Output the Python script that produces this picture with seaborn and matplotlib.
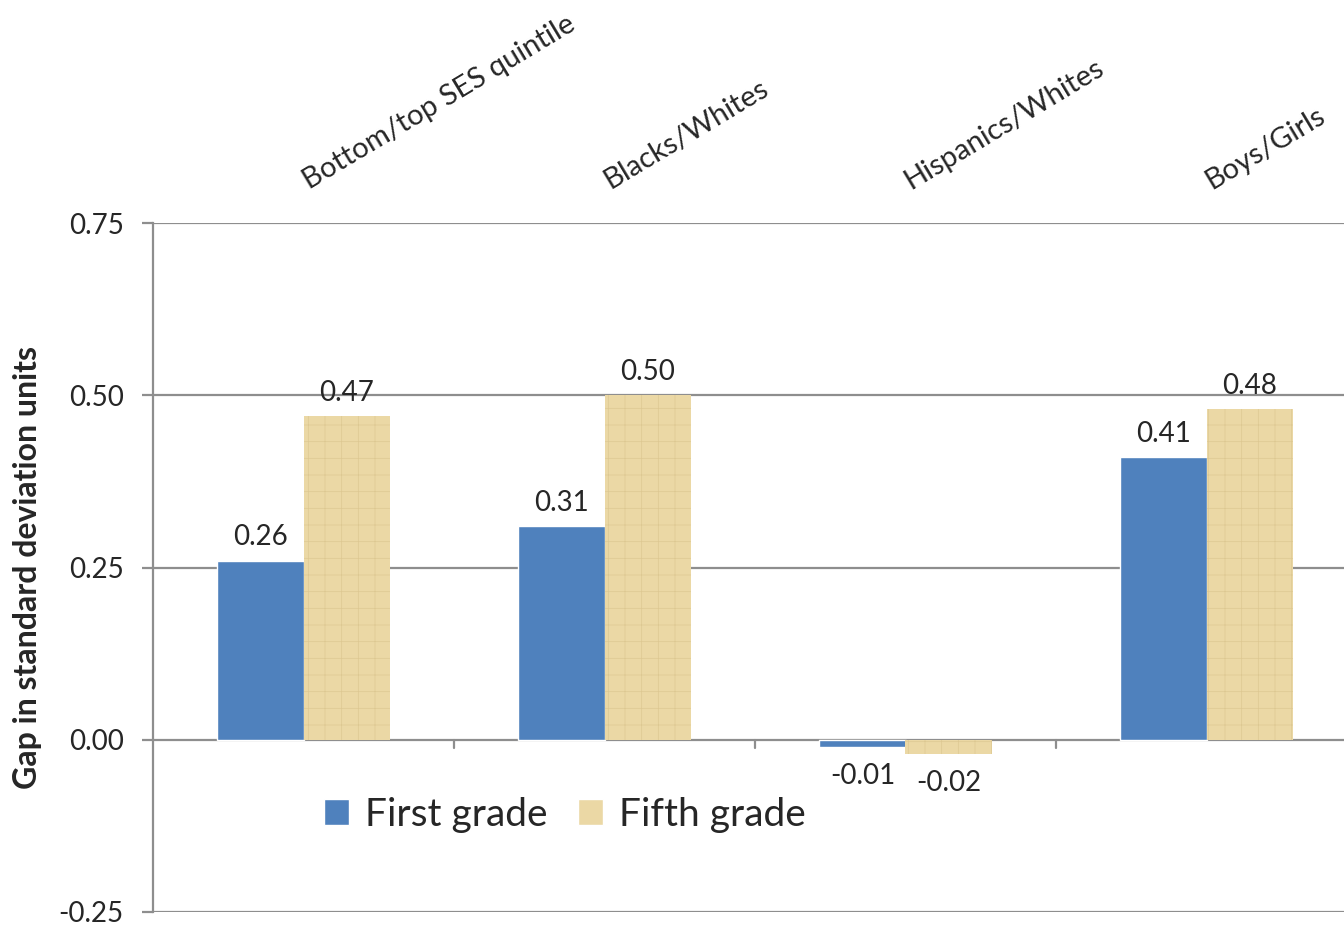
import matplotlib
matplotlib.use("Agg")
import matplotlib.pyplot as plt
import seaborn as sns
import pandas as pd

categories = ["Bottom/top SES quintile", "Blacks/Whites", "Hispanics/Whites", "Boys/Girls"]
first_grade = [0.26, 0.31, -0.01, 0.41]
fifth_grade = [0.47, 0.50, -0.02, 0.48]
series_names = ["First grade", "Fifth grade"]
y_ticks = [-0.25, 0.0, 0.25, 0.50, 0.75]

df = pd.DataFrame({
    "category": categories * 2,
    "gap": first_grade + fifth_grade,
    "grade": [series_names[0]] * 4 + [series_names[1]] * 4,
})

sns.set_theme(style="white")
plt.rcParams["font.family"] = ["Lato", "DejaVu Sans"]
plt.rcParams["hatch.linewidth"] = 0.5
plt.rcParams["hatch.color"] = "#DDC892"

BLUE = "#4F81BD"
TAN = "#EBD8A5"
GRID = "#8E8E8E"

fig = plt.figure(figsize=(13.44, 9.26), dpi=100)
ax = fig.add_axes([153 / 1344, 14 / 926, 1204 / 1344, 689 / 926])

sns.barplot(data=df, x="category", y="gap", hue="grade", order=categories,
            hue_order=series_names, palette=[BLUE, TAN], width=0.572,
            saturation=1, ax=ax, legend=True)

# papyrus-like texture on the fifth-grade bars
for patch in ax.containers[1]:
    patch.set_hatch("+")
    patch.set_edgecolor("#DDC892")
    patch.set_linewidth(0)

ax.set_ylim(-0.25, 0.75)
ax.set_xlim(-0.5, 3.5)
ax.set_yticks(y_ticks)
ax.set_yticklabels([f"{v:.2f}" for v in y_ticks], fontsize=20)
for v in y_ticks:
    ax.axhline(v, color=GRID, lw=1.6, zorder=0.5)

for s in ["top", "right", "bottom"]:
    ax.spines[s].set_visible(False)
ax.spines["left"].set_color(GRID)
ax.spines["left"].set_linewidth(1.6)
ax.tick_params(axis="y", length=8, width=1.6, color=GRID, left=True, pad=13)

ax.set_xticks(range(len(categories)))
ax.tick_params(axis="x", bottom=False, top=False, labelbottom=False, labeltop=False)
ax.set_xlabel("")

# category labels along the top, slanted
for i, cat in enumerate(categories):
    ax.annotate(cat, xy=(i, 1), xycoords=("data", "axes fraction"),
                xytext=(6, 21), textcoords="offset points", fontsize=21,
                rotation=31, rotation_mode="anchor", ha="left", va="bottom",
                annotation_clip=False)

# category separators on the zero line
for x in [0.5, 1.5, 2.5]:
    ax.plot([x, x], [0, -0.012], color=GRID, lw=1.6, clip_on=False, zorder=1)

ax.set_ylabel("Gap in standard deviation units", fontsize=23, fontweight="bold", labelpad=12)

# value labels
for cont in ax.containers:
    for patch in cont:
        h = patch.get_height()
        xc = patch.get_x() + patch.get_width() / 2
        if h >= 0:
            ax.text(xc, h + 0.015, f"{h:.2f}", ha="center", va="bottom", fontsize=20)
        else:
            ax.text(xc, h - 0.024, f"{h:.2f}", ha="center", va="top", fontsize=20)

ax.legend(loc="center", bbox_to_anchor=(0.342, 0.141), ncol=2, frameon=False,
          fontsize=28, handlelength=0.65, handleheight=0.65, handletextpad=0.4,
          columnspacing=0.8)

fig.savefig("out.png", dpi=100)
